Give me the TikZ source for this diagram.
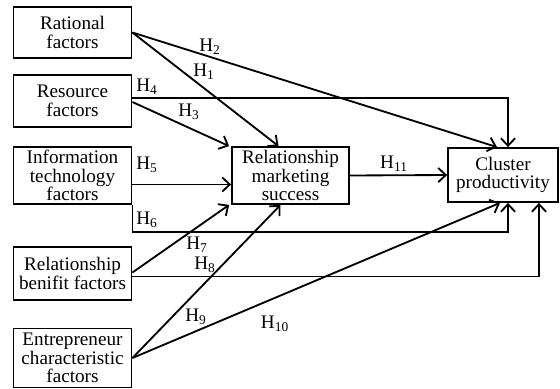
\documentclass[tikz,border=0pt]{standalone}
\usepackage{fontspec}
\setmainfont{Liberation Serif}
\usetikzlibrary{calc,arrows.meta}

\begin{document}
\begin{tikzpicture}[x=0.6pt,y=-0.6pt,
  factor/.style={draw, line width=1.1pt, align=center, inner sep=1pt,
    font=\fontsize{11.5}{11.2}\selectfont},
  hyp/.style={-{Straight Barb[length=4.5pt,width=8.5pt,line width=1.1pt]}, line width=1.1pt},
  hlab/.style={font=\fontsize{11.5}{12}\selectfont, inner sep=0pt}]
\useasboundingbox (0,0) rectangle (560,389);

\node[factor, minimum width=70.8pt, minimum height=30.6pt] (rat) at (72.5,32.5) {Rational\\factors};
\node[factor, minimum width=70.8pt, minimum height=31.2pt] (res) at (72.5,101) {Resource\\factors};
\node[factor, minimum width=70.8pt, minimum height=34.2pt] (it) at (72.5,175.5) {Information\\technology\\factors};
\node[factor, minimum width=70.8pt, minimum height=31.8pt] (ben) at (72.5,273.5) {Relationship\\benifit factors};
\node[factor, minimum width=70.8pt, minimum height=35.4pt] (ent) at (72.5,358) {Entrepreneur\\characteristic\\factors};
\node[factor, minimum width=70.2pt, minimum height=34.2pt] (rms) at (290.5,175.5) {Relationship\\marketing\\success};
\node[factor, minimum width=66pt, minimum height=32.4pt] (clu) at (503,175) {Cluster\\productivity};

\draw[hyp] (rat.east) -- ($(rms.north)+(-12,0)$);
\draw[hyp] (rat.east) -- ($(clu.north)+(-6,0)$);
\draw[hyp] ($(res.east)+(0,-3)$) -| ($(clu.north)+(5,0)$);
\draw[hyp] ($(res.east)+(0,1)$) -- ($(rms.north west)+(-2,0)$);
\draw[hyp] ($(it.east)+(0,9)$) -- ($(rms.west)+(0,9)$);
\draw[hyp] (it.south east) -- ++(0,27) -| ($(clu.south)+(5,0)$);
\draw[hyp] ($(ben.east)+(0,-1)$) -- ($(rms.south west)+(-2,0)$);
\draw[hyp] ($(ben.east)+(0,3)$) -| ($(clu.south)+(36,0)$);
\draw[hyp] (ent.east) -- ($(rms.south)+(-10,0)$);
\draw[hyp] (ent.east) -- ($(clu.south)+(-3,0)$);
\draw[hyp] (rms.east) -- (clu.west);

\node[hlab] (h1) at (204,72) {H\textsubscript{1}};
\node[hlab] (h2) at (210,47) {H\textsubscript{2}};
\node[hlab] (h3) at (189,112) {H\textsubscript{3}};
\node[hlab] (h4) at (147,87) {H\textsubscript{4}};
\node[hlab] (h5) at (147,165) {H\textsubscript{5}};
\node[hlab] (h6) at (147,220) {H\textsubscript{6}};
\node[hlab] (h7) at (197,245) {H\textsubscript{7}};
\node[hlab] (h8) at (205,265) {H\textsubscript{8}};
\node[hlab] (h9) at (196,317) {H\textsubscript{9}};
\node[hlab] (h10) at (275,324) {H\textsubscript{10}};
\node[hlab] (h11) at (394,164) {H\textsubscript{11}};
\end{tikzpicture}
\end{document}
